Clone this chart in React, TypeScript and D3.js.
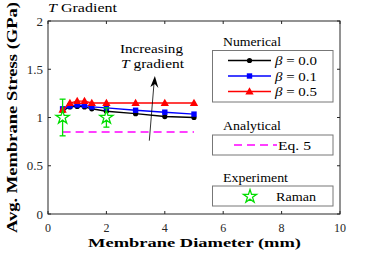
import React from 'react';
import * as d3 from 'd3';

// membrane diameters (mm)
const diam = [0.5, 0.75, 1.0, 1.25, 1.5, 2.0, 3.0, 4.0, 5.0];
// avg membrane stress (GPa) per beta
const beta00 = [1.07, 1.11, 1.115, 1.11, 1.09, 1.065, 1.04, 1.01, 1.0];
const beta01 = [1.09, 1.12, 1.13, 1.125, 1.11, 1.1, 1.075, 1.055, 1.035];
const beta05 = [1.08, 1.15, 1.17, 1.17, 1.15, 1.15, 1.15, 1.15, 1.15];
const seriesNames = ['0.0', '0.1', '0.5'];

// analytical Eq. 5
const eqX = [0.5, 5.0];
const eqY = 0.85;

// Raman experiment
const ramanX = [0.5, 2.0];
const ramanY = [1.0, 1.0];
const ramanErr = [0.19, 0.1];

const xTicks = [0, 2, 4, 6, 8, 10];
const yTicks = [0, 0.5, 1, 1.5, 2];

const W = 374, H = 256;
const serif = '"Liberation Serif", "Times New Roman", serif';

export default function App() {
  const x = d3.scaleLinear().domain([0, 10]).range([48, 340]);
  const y = d3.scaleLinear().domain([0, 2]).range([214, 21]);

  const series = [
    { vals: beta00, color: '#000000', marker: 'circle' },
    { vals: beta01, color: '#0000ff', marker: 'square' },
    { vals: beta05, color: '#ff0000', marker: 'triangle' },
  ];

  const line = d3.line<[number, number]>().x(d => x(d[0])).y(d => y(d[1]));
  const star = d3.symbol().type(d3.symbolStar).size(55)();
  const tri = d3.symbol().type(d3.symbolTriangle).size(30)();

  const marker = (kind: string, cx: number, cy: number, color: string, k: string | number) => {
    if (kind === 'circle') return <circle key={k} cx={cx} cy={cy} r={2.6} fill={color} />;
    if (kind === 'square') return <rect key={k} x={cx - 2.7} y={cy - 2.7} width={5.4} height={5.4} fill={color} />;
    return <path key={k} d={tri || ''} transform={`translate(${cx},${cy + 0.5})`} fill={color} />;
  };

  const lx0 = 228, lx1 = 271, lxm = 249.5;
  const legRows = [60.5, 76, 91.5];
  const ax = x(3.66), ay = y(1.43);

  return (
    <svg width={W} height={H} style={{ position: 'absolute', left: 0, top: 0, background: '#fff', fontFamily: serif }}>
      <rect width={W} height={H} fill="#fff" />
      {/* analytical line */}
      <line x1={x(eqX[0])} x2={x(eqX[1])} y1={y(eqY)} y2={y(eqY)} stroke="#ff00ff" strokeWidth={1.4} strokeDasharray="8,5" />
      {/* numerical series */}
      {series.map((s, i) => (
        <g key={i}>
          <path d={line(diam.map((d, j) => [d, s.vals[j]] as [number, number])) || ''} fill="none" stroke={s.color} strokeWidth={1.4} />
          {diam.map((d, j) => marker(s.marker, x(d), y(s.vals[j]), s.color, j))}
        </g>
      ))}
      {/* experiment */}
      {ramanX.map((d, i) => (
        <g key={i} stroke="#00dd00" strokeWidth={1.3} fill="none">
          <line x1={x(d)} x2={x(d)} y1={y(ramanY[i] - ramanErr[i])} y2={y(ramanY[i] + ramanErr[i])} />
          <line x1={x(d) - 3} x2={x(d) + 3} y1={y(ramanY[i] - ramanErr[i])} y2={y(ramanY[i] - ramanErr[i])} />
          <line x1={x(d) - 3} x2={x(d) + 3} y1={y(ramanY[i] + ramanErr[i])} y2={y(ramanY[i] + ramanErr[i])} />
          <path d={star || ''} transform={`translate(${x(d)},${y(ramanY[i])})`} fill="#fff" />
        </g>
      ))}
      {/* arrow */}
      <line x1={x(3.47)} y1={y(0.76)} x2={x(3.64)} y2={y(1.39)} stroke="#000" strokeWidth={0.8} />
      <path d={`M${ax},${ay} L${ax - 4.5},${ay + 11} L${ax},${ay + 8} L${ax + 3.5},${ay + 12} Z`} fill="#000" />
      <text x={120} y={53} fontSize={13} textLength={63} lengthAdjust="spacingAndGlyphs">Increasing</text>
      <text x={121} y={68} fontSize={13} textLength={63} lengthAdjust="spacingAndGlyphs"><tspan fontStyle="italic">T</tspan> gradient</text>

      {/* frame and ticks */}
      <rect x={48} y={21} width={292} height={193} fill="none" stroke="#262626" strokeWidth={1} />
      {xTicks.map(t => (
        <g key={t}>
          <line x1={x(t)} x2={x(t)} y1={214} y2={211} stroke="#262626" />
          <line x1={x(t)} x2={x(t)} y1={21} y2={24} stroke="#262626" />
          <text x={x(t)} y={231.5} fontSize={12} textAnchor="middle" fill="#262626">{t}</text>
        </g>
      ))}
      {yTicks.map(t => (
        <g key={t}>
          <line x1={48} x2={51} y1={y(t)} y2={y(t)} stroke="#262626" />
          <line x1={340} x2={337} y1={y(t)} y2={y(t)} stroke="#262626" />
          <text x={43} y={y(t) + 4.5} fontSize={13} textAnchor="end" fill="#262626">{t}</text>
        </g>
      ))}
      <text x={48} y={12} fontSize={13} textLength={69} lengthAdjust="spacingAndGlyphs"><tspan fontStyle="italic">T</tspan> Gradient</text>
      <text x={88} y={246.5} fontSize={13.5} fontWeight="bold" textLength={213} lengthAdjust="spacingAndGlyphs">Membrane Diameter (mm)</text>
      <text transform={`translate(17,${y(1)}) rotate(-90)`} fontSize={15.5} fontWeight="bold" textAnchor="middle" textLength={231} lengthAdjust="spacingAndGlyphs">Avg. Membrane Stress (GPa)</text>

      {/* legends */}
      <text x={223} y={46} fontSize={12.5} textLength={58} lengthAdjust="spacingAndGlyphs">Numerical</text>
      <rect x={212.5} y={50.5} width={120.5} height={51.5} fill="#fff" stroke="#777" />
      {series.map((s, i) => (
        <g key={i}>
          <line x1={lx0} x2={lx1} y1={legRows[i]} y2={legRows[i]} stroke={s.color} strokeWidth={1.4} />
          {marker(s.marker, lxm, legRows[i], s.color, 'm')}
          <text x={275} y={legRows[i] + 4.5} fontSize={13} textLength={42} lengthAdjust="spacingAndGlyphs">
            <tspan fontStyle="italic">{'\u03b2'}</tspan>{' = ' + seriesNames[i]}
          </text>
        </g>
      ))}
      <text x={223} y={130} fontSize={12.5} textLength={58} lengthAdjust="spacingAndGlyphs">Analytical</text>
      <rect x={212.5} y={135} width={120.5} height={20} fill="#fff" stroke="#777" />
      <line x1={234} x2={277} y1={145} y2={145} stroke="#ff00ff" strokeWidth={1.4} strokeDasharray="8,5" />
      <text x={278} y={149.5} fontSize={13} textLength={33} lengthAdjust="spacingAndGlyphs">Eq. 5</text>
      <text x={223} y={182} fontSize={12.5} textLength={65} lengthAdjust="spacingAndGlyphs">Experiment</text>
      <rect x={212.5} y={186} width={120.5} height={20} fill="#fff" stroke="#777" />
      <path d={star || ''} transform="translate(250,196.5)" fill="#fff" stroke="#00dd00" strokeWidth={1.3} />
      <text x={276} y={200.5} fontSize={13} textLength={40} lengthAdjust="spacingAndGlyphs">Raman</text>
    </svg>
  );
}
